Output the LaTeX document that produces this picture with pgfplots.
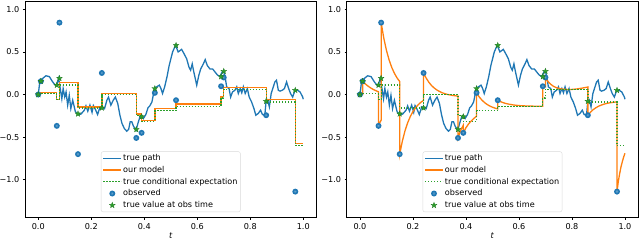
\documentclass[border=0pt]{standalone}
\usepackage{fontspec}
\setmainfont{DejaVu Sans}
\usepackage{pgfplots}
\usepackage{pgfplotstable}
\pgfplotsset{compat=1.18}
\definecolor{C0}{HTML}{1F77B4}
\definecolor{C1}{HTML}{FF7F0E}
\definecolor{C2}{HTML}{2CA02C}

\pgfdeclareplotmark{obs}{%
  \pgfpathcircle{\pgfpointorigin}{\pgfplotmarksize}%
  \pgfsetfillcolor{C0}%
  \pgfusepathqfill
  \pgfsetstrokecolor{C0!70!white}%
  \pgfsetlinewidth{0.3bp}%
  \pgfpathmoveto{\pgfpointpolar{0}{0.45\pgfplotmarksize}}\pgfpathlineto{\pgfpointpolar{180}{0.45\pgfplotmarksize}}%
  \pgfpathmoveto{\pgfpointpolar{60}{0.45\pgfplotmarksize}}\pgfpathlineto{\pgfpointpolar{240}{0.45\pgfplotmarksize}}%
  \pgfpathmoveto{\pgfpointpolar{120}{0.45\pgfplotmarksize}}\pgfpathlineto{\pgfpointpolar{300}{0.45\pgfplotmarksize}}%
  \pgfusepathqstroke
}
\pgfdeclareplotmark{fstar}{%
  \pgfpathmoveto{\pgfpointpolar{90}{\pgfplotmarksize}}%
  \pgfpathlineto{\pgfpointpolar{126}{0.42\pgfplotmarksize}}%
  \pgfpathlineto{\pgfpointpolar{162}{\pgfplotmarksize}}%
  \pgfpathlineto{\pgfpointpolar{198}{0.42\pgfplotmarksize}}%
  \pgfpathlineto{\pgfpointpolar{234}{\pgfplotmarksize}}%
  \pgfpathlineto{\pgfpointpolar{270}{0.42\pgfplotmarksize}}%
  \pgfpathlineto{\pgfpointpolar{306}{\pgfplotmarksize}}%
  \pgfpathlineto{\pgfpointpolar{342}{0.42\pgfplotmarksize}}%
  \pgfpathlineto{\pgfpointpolar{18}{\pgfplotmarksize}}%
  \pgfpathlineto{\pgfpointpolar{54}{0.42\pgfplotmarksize}}%
  \pgfpathclose
  \pgfusepathqfillstroke
}

\pgfplotstableread{
t v
0.000 0.000
0.006 0.150
0.017 0.190
0.029 0.220
0.042 0.210
0.054 0.150
0.064 0.110
0.069 0.110
0.077 0.190
0.083 0.070
0.089 -0.050
0.094 0.070
0.100 -0.030
0.105 0.030
0.111 -0.125
0.117 -0.010
0.123 -0.165
0.130 -0.067
0.140 -0.200
0.149 -0.235
0.161 -0.230
0.174 -0.184
0.180 -0.133
0.187 -0.196
0.195 -0.125
0.203 -0.210
0.208 -0.130
0.215 -0.170
0.224 -0.235
0.233 -0.145
0.243 -0.160
0.250 -0.167
0.259 -0.067
0.265 -0.030
0.274 -0.125
0.283 -0.067
0.291 -0.030
0.300 -0.105
0.308 -0.240
0.316 -0.340
0.325 -0.400
0.334 -0.430
0.341 -0.410
0.347 -0.320
0.353 -0.320
0.359 -0.370
0.369 -0.420
0.376 -0.340
0.384 -0.260
0.392 -0.255
0.397 -0.280
0.406 -0.235
0.414 -0.157
0.421 -0.133
0.429 -0.087
0.434 -0.008
0.439 0.070
0.447 0.090
0.457 0.110
0.463 0.070
0.469 0.012
0.477 0.090
0.486 0.210
0.494 0.340
0.507 0.500
0.518 0.578
0.528 0.500
0.541 0.530
0.550 0.480
0.560 0.420
0.569 0.320
0.575 0.285
0.581 0.360
0.587 0.265
0.598 0.110
0.606 0.226
0.613 0.300
0.623 0.360
0.630 0.410
0.638 0.340
0.648 0.300
0.658 0.300
0.667 0.265
0.676 0.230
0.686 0.210
0.694 0.265
0.700 0.270
0.705 0.210
0.711 0.090
0.720 0.070
0.726 -0.030
0.733 0.030
0.742 0.050
0.749 0.090
0.755 0.012
0.762 0.070
0.768 0.020
0.774 0.090
0.781 0.012
0.789 0.070
0.796 -0.030
0.805 -0.087
0.814 -0.165
0.821 -0.243
0.830 -0.223
0.839 -0.184
0.846 -0.235
0.855 -0.243
0.859 -0.105
0.866 -0.067
0.872 -0.145
0.879 0.012
0.887 0.090
0.893 0.148
0.899 0.168
0.906 0.050
0.912 0.040
0.921 0.050
0.929 0.070
0.937 0.148
0.945 0.070
0.952 0.012
0.960 -0.030
0.969 0.050
0.978 0.050
0.988 0.030
0.998 -0.030
1.000 -0.055
}\truepath

\pgfplotstableread{
t v
0.00 0.025
0.07 -0.055
0.08 0.145
0.15 -0.145
0.24 0.012
0.37 -0.230
0.39 -0.305
0.44 -0.165
0.52 -0.112
0.69 -0.020
0.70 0.083
0.86 -0.058
0.97 -0.575
1.00 -0.575
}\modelstep

\pgfplotstableread{
t v
0.00 0.010
0.07 -0.060
0.08 0.110
0.15 -0.157
0.24 0.000
0.37 -0.250
0.39 -0.315
0.44 -0.190
0.52 -0.137
0.69 -0.040
0.70 0.062
0.86 -0.087
0.97 -0.600
1.00 -0.600
}\condexp

\pgfplotstableread{
t v
0.00 0.000
0.01 0.156
0.07 -0.368
0.08 0.844
0.15 -0.700
0.24 0.253
0.37 -0.510
0.39 -0.450
0.44 0.020
0.52 -0.067
0.69 0.097
0.70 0.200
0.86 -0.243
0.97 -1.140
}\observed

\pgfplotstableread{
t v
0.00 0.000
0.01 0.156
0.07 0.110
0.08 0.190
0.15 -0.227
0.24 -0.157
0.37 -0.410
0.39 -0.260
0.44 0.070
0.52 0.577
0.69 0.210
0.70 0.273
0.86 -0.079
0.97 0.050
}\trueobs

\pgfplotstableread{
t v
0.000 0.000
0.010 0.000
0.010 0.156
0.020 0.125
0.030 0.100
0.040 0.078
0.050 0.060
0.060 0.045
0.070 0.032
0.070 -0.368
0.075 -0.330
0.080 -0.300
0.080 0.844
0.090 0.661
0.100 0.518
0.110 0.406
0.120 0.318
0.130 0.249
0.140 0.195
0.150 0.153
0.150 -0.700
0.160 -0.547
0.170 -0.426
0.180 -0.332
0.190 -0.258
0.200 -0.200
0.210 -0.155
0.220 -0.119
0.230 -0.091
0.240 -0.069
0.240 0.253
0.250 0.192
0.260 0.144
0.270 0.106
0.280 0.077
0.290 0.054
0.300 0.036
0.310 0.021
0.320 0.010
0.330 0.001
0.340 -0.005
0.350 -0.011
0.360 -0.015
0.370 -0.018
0.370 -0.510
0.380 -0.420
0.390 -0.360
0.390 -0.450
0.400 -0.390
0.410 -0.345
0.420 -0.310
0.430 -0.280
0.440 -0.255
0.440 0.020
0.450 -0.028
0.460 -0.065
0.470 -0.094
0.480 -0.117
0.490 -0.135
0.500 -0.149
0.510 -0.160
0.520 -0.169
0.520 -0.067
0.530 -0.083
0.540 -0.095
0.550 -0.105
0.560 -0.112
0.580 -0.123
0.600 -0.130
0.630 -0.135
0.660 -0.137
0.690 -0.138
0.690 0.097
0.700 0.090
0.700 0.200
0.710 0.150
0.720 0.120
0.730 0.097
0.740 0.082
0.750 0.072
0.760 0.065
0.780 0.060
0.800 0.060
0.820 0.066
0.840 0.076
0.860 0.088
0.860 -0.243
0.870 -0.207
0.880 -0.178
0.890 -0.156
0.900 -0.138
0.910 -0.125
0.920 -0.114
0.930 -0.105
0.940 -0.099
0.950 -0.094
0.960 -0.090
0.970 -0.087
0.970 -1.140
0.975 -1.020
0.980 -0.930
0.985 -0.850
0.990 -0.790
0.995 -0.735
1.000 -0.690
}\modelcont

\newcommand{\fs}{\fontsize{8.1bp}{9.7bp}\selectfont}

\pgfplotsset{
  myaxis/.style={
    scale only axis,
    width=291.5bp, height=216.5bp,
    xmin=-0.05, xmax=1.05, ymin=-1.444, ymax=1.098,
    axis line style={line width=0.5bp},
    every tick/.style={black, line width=0.5bp},
    major tick length=2.2bp,
    tick align=outside,
    xtick pos=bottom, ytick pos=left,
    xtick={0,0.2,0.4,0.6,0.8,1.0},
    xticklabels={0.0,0.2,0.4,0.6,0.8,1.0},
    ytick={-1,-0.5,0,0.5,1},
    yticklabels={−1.0,−0.5,0.0,0.5,1.0},
    tick label style={font=\fs},
    /pgf/number format/assume math mode=true,
    xlabel={\textit{t}},
    xlabel style={font=\fs, yshift=3bp},
    legend style={at={(0.5,0.025)}, anchor=south, font=\fs,
      draw=black!15, rounded corners=2bp, inner sep=1.5bp,
      row sep=1.5bp,
      nodes={inner sep=1.3bp}},
    legend cell align=left,
    legend image code/.code={\draw[##1] (0bp,0bp) -- (18bp,0bp);},
  },
  pathst/.style={C0, line width=1.3bp},
  modelst/.style={C1, line width=1.3bp},
  condst/.style={C2, line width=1.3bp, dash pattern=on 1.4bp off 1.6bp},
  obsst/.style={only marks, mark=obs, mark size=3bp, C0, fill=C0,
     legend image code/.code={\draw[mark repeat=2,mark phase=2,##1] plot coordinates {(0bp,0bp) (9bp,0bp) (18bp,0bp)};}},
  truest/.style={only marks, mark=fstar, mark size=3bp, draw=C2!75!black, fill=C2, line width=0.3bp,
     legend image code/.code={\draw[mark repeat=2,mark phase=2,##1] plot coordinates {(0bp,0bp) (9bp,0bp) (18bp,0bp)};}},
}

\begin{document}
\begin{tikzpicture}
\path[use as bounding box] (-25bp,-22.5bp) rectangle (615bp,217.5bp);
\begin{axis}[myaxis, at={(0bp,0bp)}, anchor=south west]
\addplot[pathst] table[x=t,y=v] {\truepath};
\addlegendentry{true path}
\addplot[modelst, const plot mark left] table[x=t,y=v] {\modelstep};
\addlegendentry{our model}
\addplot[condst, const plot mark left] table[x=t,y=v] {\condexp};
\addlegendentry{true conditional expectation}
\addplot[obsst] table[x=t,y=v] {\observed};
\addlegendentry{observed}
\addplot[truest] table[x=t,y=v] {\trueobs};
\addlegendentry{true value at obs time}
\end{axis}
\begin{axis}[myaxis, at={(321.7bp,0bp)}, anchor=south west]
\addplot[pathst] table[x=t,y=v] {\truepath};
\addlegendentry{true path}
\addplot[modelst] table[x=t,y=v] {\modelcont};
\addlegendentry{our model}
\addplot[condst, const plot mark left] table[x=t,y=v] {\condexp};
\addlegendentry{true conditional expectation}
\addplot[obsst] table[x=t,y=v] {\observed};
\addlegendentry{observed}
\addplot[truest] table[x=t,y=v] {\trueobs};
\addlegendentry{true value at obs time}
\end{axis}
\end{tikzpicture}
\end{document}
